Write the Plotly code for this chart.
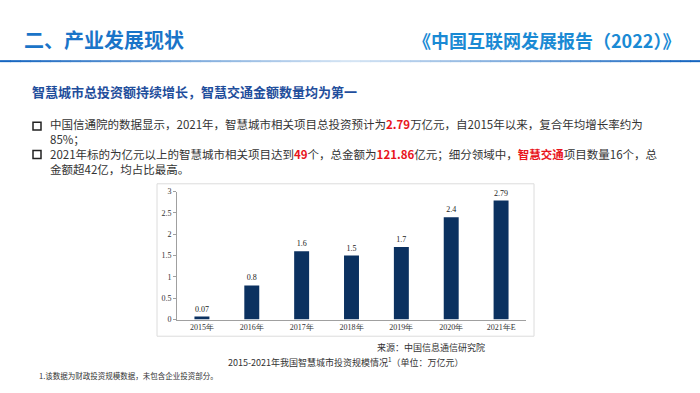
import plotly.graph_objects as go

years = ["2015年", "2016年", "2017年", "2018年", "2019年", "2020年", "2021年E"]
invest = [0.07, 0.8, 1.6, 1.5, 1.7, 2.4, 2.79]
value_labels = ["0.07", "0.8", "1.6", "1.5", "1.7", "2.4", "2.79"]
y_ticks = [0, 0.5, 1, 1.5, 2, 2.5, 3]
y_tick_text = ["0", "0.5", "1", "1.5", "2", "2.5", "3"]

W, H = 700, 393
CJK = "Noto Sans CJK SC"
SERIF = "Liberation Serif"

def px(x):
    return x / W

def py(y):
    return 1 - y / H

fig = go.Figure()
fig.add_trace(go.Bar(
    x=years, y=invest, marker=dict(color="#0b3160", line=dict(width=0)),
    text=value_labels, textposition="outside", cliponaxis=False,
    textfont=dict(family=SERIF, size=8, color="#222222"),
    width=0.3, hoverinfo="skip",
))

fig.update_layout(
    width=W, height=H, margin=dict(l=0, r=0, t=0, b=0),
    paper_bgcolor="white", plot_bgcolor="white", showlegend=False,
    xaxis=dict(domain=[px(177), px(526)], showgrid=False, showline=True,
               linecolor="#a0a0a0", linewidth=1, ticks="",
               tickfont=dict(family=SERIF, size=8, color="#333333"),
               fixedrange=True),
    yaxis=dict(domain=[py(323), py(192)], range=[0, 3], showgrid=False,
               showline=True, linecolor="#a0a0a0", linewidth=1,
               ticks="outside", ticklen=3, tickcolor="#a0a0a0",
               tickvals=y_ticks, ticktext=y_tick_text, zeroline=False,
               tickfont=dict(family=SERIF, size=8, color="#333333"),
               fixedrange=True),
)

shapes = []
# chart frame
shapes.append(dict(type="rect", xref="paper", yref="paper",
                   x0=px(157), x1=px(534), y0=py(340), y1=py(184),
                   line=dict(color="#dcdcdc", width=1), fillcolor="rgba(0,0,0,0)"))

# gradient header line
n = 70
def lerp(a, b, t):
    return tuple(int(a[i] + (b[i] - a[i]) * t) for i in range(3))
c_dark = (21, 101, 192)
c_light = (215, 230, 245)
for i in range(n):
    t = i / (n - 1)
    if t < 0.5:
        c = lerp(c_dark, c_light, t / 0.5)
    else:
        c = lerp(c_light, c_dark, (t - 0.5) / 0.5)
    shapes.append(dict(type="line", xref="paper", yref="paper",
                       x0=i / n, x1=(i + 1) / n + 0.001, y0=py(58.5), y1=py(58.5),
                       line=dict(color="rgb(%d,%d,%d)" % c, width=2)))

# bullet squares
for yb in [125, 154]:
    shapes.append(dict(type="rect", xref="paper", yref="paper",
                       x0=px(33), x1=px(41), y0=py(yb + 4), y1=py(yb - 4),
                       line=dict(color="#222222", width=1.5), fillcolor="white"))
fig.update_layout(shapes=shapes)

ann = []
def add_text(x, y, text, size, color="#333333", family=CJK, xanchor="left", align="left"):
    ann.append(dict(xref="paper", yref="paper", x=px(x), y=py(y), text=text,
                    showarrow=False, xanchor=xanchor, yanchor="middle", align=align,
                    font=dict(family=family, size=size, color=color)))

add_text(22, 36, "<b>二、产业发展现状</b>", 20, color="#1a74c8")
add_text(682, 37, "<b>《中国互联网发展报告（2022）》</b>", 18, color="#1a8ad4", xanchor="right")
add_text(30, 90, "<b>智慧城市总投资额持续增长，智慧交通金额数量均为第一</b>", 13, color="#1f4e9c")

red = lambda s: "<b><span style='color:#e8141c'>%s</span></b>" % s
bullets = ("中国信通院的数据显示，2021年，智慧城市相关项目总投资预计为" + red("2.79") +
           "万亿元，自2015年以来，复合年均增长率约为<br>"
           "85%；<br>"
           "2021年标的为亿元以上的智慧城市相关项目达到" + red("49") + "个，总金额为" +
           red("121.86") + "亿元；细分领域中，" + red("智慧交通") + "项目数量16个，总<br>"
           "金额超42亿，均占比最高。")
add_text(48, 145.5, bullets, 11.5)

add_text(487, 352, "来源：中国信息通信研究院", 9, xanchor="right")
add_text(346, 366, "2015-2021年我国智慧城市投资规模情况<sup>1</sup>（单位：万亿元）", 9, xanchor="center")
add_text(37, 380, "1.该数据为财政投资规模数据，未包含企业投资部分。", 7.5)

fig.update_layout(annotations=ann)
fig.write_html("out.html", config={"displayModeBar": False},
               post_script="document.body.style.margin='0';")
